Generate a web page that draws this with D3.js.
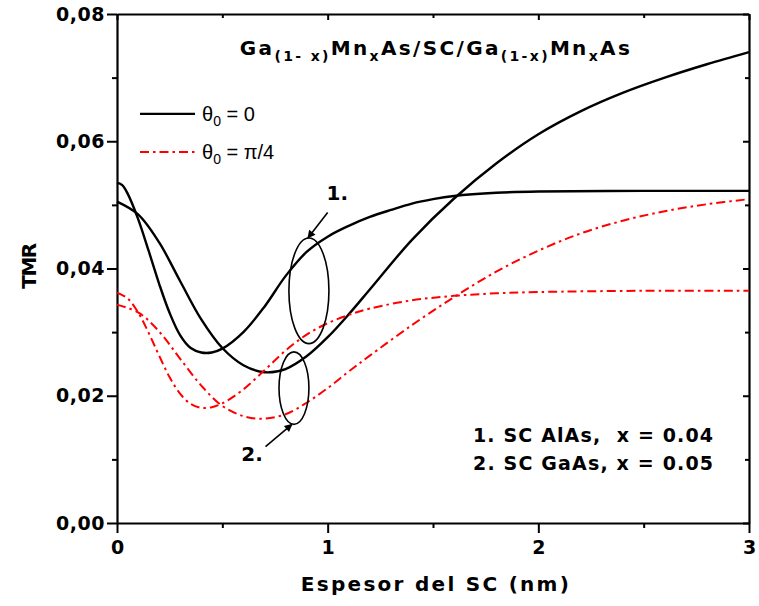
<!DOCTYPE html>
<html>
<head>
<meta charset="utf-8">
<script src="https://cdn.jsdelivr.net/npm/d3@7"></script>
<style>
  body { margin: 0; background: #fff; }
  text { font-family: "Liberation Sans", Arial, sans-serif; }
  text.b { font-family: "DejaVu Sans", sans-serif; font-weight: bold; }
</style>
</head>
<body>
<div id="chart"></div>
<script>
// data (x in nm, TMR)
var xs1 = [0, 0.025, 0.05, 0.1, 0.15, 0.2, 0.25, 0.3, 0.35, 0.4, 0.45, 0.5, 0.6, 0.7, 0.8, 0.9, 1.0, 1.1, 1.2, 1.3, 1.4, 1.5, 1.6, 1.8, 2.0, 2.5, 3.0];
var black1 = [0.0535, 0.0531, 0.0518, 0.0478, 0.0428, 0.0376, 0.0330, 0.0295, 0.0275, 0.0268, 0.0268, 0.0274, 0.0300, 0.0340, 0.0388, 0.0426, 0.0450, 0.0467, 0.0481, 0.0492, 0.0502, 0.0509, 0.0514, 0.0519, 0.0521, 0.0522, 0.0522];
var xs2 = [0, 0.1, 0.2, 0.3, 0.4, 0.5, 0.6, 0.7, 0.8, 0.9, 1.0, 1.1, 1.2, 1.4, 1.6, 1.8, 2.0, 2.2, 2.4, 2.6, 2.8, 3.0];
var black2 = [0.0505, 0.0485, 0.0441, 0.0380, 0.0320, 0.0275, 0.0248, 0.0237, 0.0242, 0.0262, 0.0292, 0.0328, 0.0367, 0.0445, 0.0510, 0.0565, 0.0611, 0.0647, 0.0676, 0.0700, 0.0721, 0.0740];
var xs3 = [0, 0.05, 0.1, 0.15, 0.2, 0.25, 0.3, 0.35, 0.4, 0.45, 0.5, 0.6, 0.7, 0.8, 0.9, 1.0, 1.1, 1.2, 1.4, 1.6, 1.8, 2.0, 2.5, 3.0];
var red1 = [0.0362, 0.0353, 0.0331, 0.0299, 0.0263, 0.0229, 0.0203, 0.0187, 0.0181, 0.0182, 0.0188, 0.0210, 0.0240, 0.0271, 0.0296, 0.0314, 0.0327, 0.0337, 0.0350, 0.0357, 0.0361, 0.0363, 0.0365, 0.0365];
var xs4 = [0, 0.1, 0.2, 0.3, 0.4, 0.5, 0.6, 0.7, 0.8, 0.9, 1.0, 1.1, 1.2, 1.4, 1.6, 1.8, 2.0, 2.2, 2.4, 2.6, 2.8, 3.0];
var red2 = [0.0343, 0.0331, 0.0301, 0.0258, 0.0216, 0.0184, 0.0168, 0.0164, 0.0171, 0.0189, 0.0212, 0.0238, 0.0263, 0.0311, 0.0355, 0.0395, 0.0428, 0.0455, 0.0475, 0.0490, 0.0501, 0.0509];

var xTicks = [0, 1, 2, 3];
var xMinor = [0.5, 1.5, 2.5];
var yTicks = [0, 0.02, 0.04, 0.06, 0.08];
var yMinor = [0.01, 0.03, 0.05, 0.07];

// ellipse annotations: [cx, cy, rx, ry] in data units
var ell1 = [0.911, 0.0365, 0.095, 0.0083];
var ell2 = [0.84, 0.0212, 0.071, 0.0057];

var margin = {top: 14, right: 10, bottom: 83, left: 117},
    width = 749 - margin.left,
    height = 523 - margin.top;

var svg = d3.select("#chart")
    .append("svg")
    .attr("width", 759)
    .attr("height", 606)
    .append("g")
    .attr("transform", "translate(" + margin.left + "," + margin.top + ")");

var x = d3.scaleLinear().domain([0, 3]).range([0, width]);
var y = d3.scaleLinear().domain([0, 0.08]).range([height, 0]);

var fmt = function(d) { return d3.format(".2f")(d).replace(".", ","); };

// nudge letter spacing so a text spans about the same width as the original
function fitWidth(t, w) {
    var n = t.node().textContent.length;
    var len = t.node().getComputedTextLength();
    t.style("letter-spacing", ((w - len) / Math.max(n - 1, 1)) + "px");
}

// axes
function styleAxis(g) {
    g.selectAll("path").attr("stroke", "#000").attr("stroke-width", 2.2);
    g.selectAll("line").attr("stroke", "#000").attr("stroke-width", 2);
    g.selectAll("text").attr("class", "b").attr("fill", "#000").style("font-size", "19px");
}

svg.append("g")
    .attr("transform", "translate(0," + height + ")")
    .call(d3.axisBottom(x).tickValues(xTicks).tickSize(10).tickSizeOuter(0).tickPadding(8).tickFormat(d3.format("d")))
    .call(styleAxis);
svg.append("g")
    .attr("transform", "translate(0," + height + ")")
    .call(d3.axisBottom(x).tickValues(xMinor).tickSize(5).tickFormat(""))
    .call(styleAxis).select(".domain").remove();

svg.append("g")
    .call(d3.axisLeft(y).tickValues(yTicks).tickSize(10).tickSizeOuter(0).tickPadding(2).tickFormat(fmt))
    .call(styleAxis)
    .selectAll("text").style("letter-spacing", "0.5px");
svg.append("g")
    .call(d3.axisLeft(y).tickValues(yMinor).tickSize(5).tickFormat(""))
    .call(styleAxis).select(".domain").remove();

// mirrored top / right axes with inward ticks
svg.append("g")
    .call(d3.axisTop(x).tickValues(xTicks).tickSize(-6).tickSizeOuter(0).tickFormat(""))
    .call(styleAxis);
svg.append("g")
    .call(d3.axisTop(x).tickValues(xMinor).tickSize(-4).tickFormat(""))
    .call(styleAxis).select(".domain").remove();
svg.append("g")
    .attr("transform", "translate(" + width + ",0)")
    .call(d3.axisRight(y).tickValues(yTicks).tickSize(-6).tickSizeOuter(0).tickFormat(""))
    .call(styleAxis);
svg.append("g")
    .attr("transform", "translate(" + width + ",0)")
    .call(d3.axisRight(y).tickValues(yMinor).tickSize(-4).tickFormat(""))
    .call(styleAxis).select(".domain").remove();

// axis titles
var xt = svg.append("text")
    .attr("class", "b")
    .attr("x", width / 2 + 3)
    .attr("y", height + 68)
    .attr("text-anchor", "middle")
    .style("font-size", "20px")
    .text("Espesor del SC (nm)");
fitWidth(xt, 268);

var yt = svg.append("text")
    .attr("class", "b")
    .attr("transform", "rotate(-90)")
    .attr("x", -(y(0.04)) + 2)
    .attr("y", -81)
    .attr("text-anchor", "middle")
    .style("font-size", "20px")
    .text("TMR");
fitWidth(yt, 46);

// curves
var series = [
    {xs: xs1, ys: black1, color: "#000", dash: null, w: 2.4},
    {xs: xs2, ys: black2, color: "#000", dash: null, w: 2.4},
    {xs: xs3, ys: red1, color: "#ff0000", dash: "9,4,2.5,4", w: 2},
    {xs: xs4, ys: red2, color: "#ff0000", dash: "9,4,2.5,4", w: 2}
];
var line = d3.line()
    .x(function(d) { return x(d[0]); })
    .y(function(d) { return y(d[1]); })
    .curve(d3.curveCatmullRom.alpha(0.5));

series.forEach(function(s) {
    svg.append("path")
        .datum(d3.zip(s.xs, s.ys))
        .attr("fill", "none")
        .attr("stroke", s.color)
        .attr("stroke-width", s.w)
        .attr("stroke-dasharray", s.dash)
        .attr("d", line);
});

// title
var title = svg.append("text")
    .attr("class", "b")
    .attr("x", x(1.5) + 3)
    .attr("y", 41)
    .attr("text-anchor", "middle")
    .style("font-size", "20px");
[["Ga", 0], ["(1- x)", 1], ["Mn", 0], ["x", 1], ["As/SC/Ga", 0], ["(1-x)", 1], ["Mn", 0], ["x", 1], ["As", 0]].forEach(function(p, i) {
    var t = title.append("tspan").text(p[0]);
    if (p[1]) t.style("font-size", "14px").attr("dy", 6);
    else t.attr("dy", i > 0 ? -6 : 0);
});
fitWidth(title, 390);

// legend
var legend = [
    {label: "0", color: "#000", dash: null, w: 2.4, yv: 0.0643},
    {label: "π/4", color: "#ff0000", dash: "9,4,2.5,4", w: 2, yv: 0.0583}
];
legend.forEach(function(l) {
    svg.append("line")
        .attr("x1", 23).attr("x2", 78)
        .attr("y1", y(l.yv)).attr("y2", y(l.yv))
        .attr("stroke", l.color)
        .attr("stroke-width", l.w)
        .attr("stroke-dasharray", l.dash);
    var t = svg.append("text")
        .attr("x", 85)
        .attr("y", y(l.yv) + 7)
        .style("font-size", "20px");
    t.append("tspan").text("θ");
    t.append("tspan").text("0").style("font-size", "14px").attr("dy", 5);
    t.append("tspan").text(" = " + l.label).attr("dy", -5);
});

// ellipses + arrows
[ell1, ell2].forEach(function(e) {
    svg.append("ellipse")
        .attr("cx", x(e[0])).attr("cy", y(e[1]))
        .attr("rx", x(e[2]) - x(0)).attr("ry", y(0) - y(e[3]))
        .attr("fill", "none")
        .attr("stroke", "#000")
        .attr("stroke-width", 1.6);
});

svg.append("defs").append("marker")
    .attr("id", "arr")
    .attr("viewBox", "0 0 10 10")
    .attr("refX", 9).attr("refY", 5)
    .attr("markerWidth", 10).attr("markerHeight", 8)
    .attr("markerUnits", "userSpaceOnUse")
    .attr("orient", "auto")
    .append("path").attr("d", "M0,0L10,5L0,10z").attr("fill", "#000");

svg.append("line")
    .attr("x1", x(1.0)).attr("y1", y(0.0488))
    .attr("x2", x(ell1[0]) - 1).attr("y2", y(ell1[1] + ell1[3]))
    .attr("stroke", "#000").attr("stroke-width", 1.6)
    .attr("marker-end", "url(#arr)");
svg.append("text")
    .attr("class", "b")
    .attr("x", x(0.995)).attr("y", y(0.0508))
    .style("font-size", "20px")
    .text("1.");

svg.append("line")
    .attr("x1", x(0.705)).attr("y1", y(0.0120))
    .attr("x2", x(ell2[0]) - 2).attr("y2", y(ell2[1] - ell2[3]))
    .attr("stroke", "#000").attr("stroke-width", 1.6)
    .attr("marker-end", "url(#arr)");
svg.append("text")
    .attr("class", "b")
    .attr("x", x(0.59)).attr("y", y(0.0098))
    .style("font-size", "20px")
    .text("2.");

// case notes
var notes = ["1. SC AlAs,  x = 0.04", "2. SC GaAs, x = 0.05"];
notes.forEach(function(n, i) {
    var t = svg.append("text")
        .attr("class", "b")
        .attr("x", x(1.69))
        .attr("y", y(0.0128) + i * 28)
        .attr("xml:space", "preserve")
        .style("white-space", "pre")
        .style("font-size", "19px")
        .text(n);
    fitWidth(t, 240);
});
</script>
</body>
</html>
